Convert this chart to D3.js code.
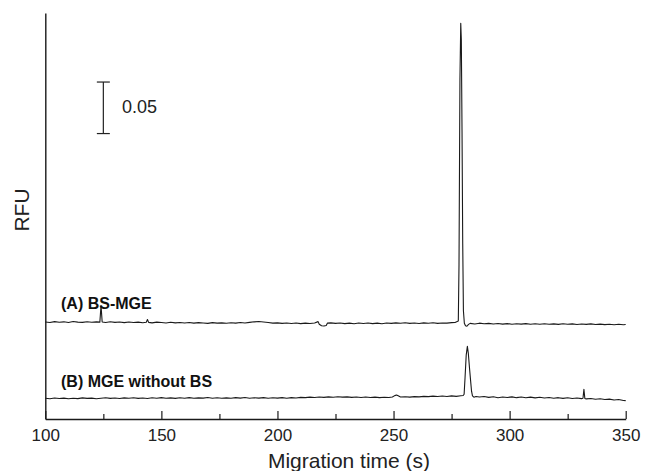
<!DOCTYPE html>
<html>
<head>
<meta charset="utf-8">
<script src="https://cdn.jsdelivr.net/npm/d3@7"></script>
<style>
  body { margin: 0; background: #fff; }
  svg { display: block; font-family: "Liberation Sans", Arial, sans-serif; }
</style>
</head>
<body>
<svg id="chart" width="645" height="471"></svg>
<script>
// migration time (s) vs RFU (in mRFU, traces already offset as drawn)
const traceA = [[100,94.2],[102,93.6],[104,94.5],[106,93.9],[108,94.3],[110,93.7],[112,94.6],[114,94.0],[116,93.8],[118,94.4],[120,93.9],[122,94.3],[123.5,94.0],[124,110],[124.5,94.1],[126,93.6],[128,94.4],[130,93.8],[132,94.1],[134,93.5],[136,94.2],[138,93.7],[140,94.0],[142,93.4],[143.5,93.9],[144,96.5],[144.5,93.8],[146,93.3],[148,94.0],[150,93.6],[152,93.2],[154,93.9],[156,93.3],[158,93.7],[160,93.1],[162,93.6],[164,93.0],[166,93.5],[168,93.2],[170,92.8],[172,93.5],[174,93.0],[176,93.3],[178,92.9],[180,93.4],[182,93.0],[184,93.6],[186,93.2],[188,93.8],[190,94.3],[192,94.6],[194,94.1],[196,93.6],[198,93.0],[200,93.3],[202,92.8],[204,93.2],[206,92.7],[208,93.1],[210,92.6],[212,93.0],[214,92.7],[216,93.2],[217.5,94.5],[218,92.0],[219,90.5],[220,90.2],[221,90.8],[221.5,93.0],[223,93.3],[225,92.8],[227,93.2],[229,92.6],[231,93.0],[233,92.5],[235,93.1],[237,92.7],[239,93.2],[241,92.6],[243,93.0],[245,92.5],[247,93.1],[249,92.8],[251,93.3],[253,92.9],[255,93.4],[257,92.8],[259,93.2],[261,92.7],[263,93.3],[265,92.9],[267,93.4],[269,92.8],[271,93.2],[273,93.0],[275,93.5],[276.5,93.6],[277.9,95],[278.2,150],[278.6,330],[278.95,384],[279.2,368],[279.5,280],[279.8,170],[280.1,105],[280.5,93],[281,90.5],[281.6,90.0],[282.3,91.8],[283,92.8],[285,92.2],[287,93.0],[289,92.4],[291,92.8],[293,92.2],[295,92.7],[297,92.1],[299,92.6],[301,92.0],[303,92.5],[305,92.1],[307,92.6],[309,92.0],[311,92.5],[313,91.9],[315,92.4],[317,91.9],[319,92.3],[321,91.8],[323,92.4],[325,91.9],[327,92.3],[329,91.7],[331,92.2],[333,91.8],[335,92.3],[337,91.7],[339,92.1],[341,91.6],[343,92.0],[345,91.5],[347,91.9],[349,91.4],[350,91.7]];

const traceB = [[100,20.1],[102,19.7],[104,20.4],[106,19.9],[108,20.3],[110,19.6],[112,20.2],[114,19.8],[116,20.5],[118,20.0],[120,20.3],[122,19.7],[124,20.2],[126,20.6],[128,20.0],[130,20.4],[132,19.9],[134,20.5],[136,20.1],[138,20.6],[140,20.0],[142,20.4],[144,19.9],[146,20.6],[148,20.2],[150,20.7],[152,20.1],[154,20.5],[156,20.0],[158,20.6],[160,20.2],[162,20.7],[164,20.1],[166,20.5],[168,20.3],[170,20.8],[172,20.2],[174,20.6],[176,20.1],[178,20.5],[180,20.2],[182,20.7],[184,20.3],[186,20.8],[188,20.2],[190,20.6],[192,20.3],[194,20.7],[196,20.2],[198,20.6],[200,20.3],[202,20.7],[204,20.2],[206,20.7],[208,20.4],[210,21.0],[212,20.7],[214,21.2],[216,20.8],[218,21.3],[220,21.0],[222,21.5],[224,21.1],[226,21.6],[228,21.2],[230,21.5],[232,21.0],[234,21.4],[236,20.9],[238,21.3],[240,20.8],[242,21.2],[244,20.7],[246,21.1],[248,20.8],[249.5,21.3],[250.5,22.7],[251.3,23.3],[252,22.5],[253,21.3],[255,21.6],[257,21.2],[259,21.7],[261,21.5],[263,22.0],[265,21.7],[267,22.2],[269,21.8],[271,22.3],[273,21.9],[275,22.4],[277,22.0],[279,22.5],[280,22.8],[280.4,24],[280.8,40],[281.3,62],[281.8,70.5],[282.2,64],[282.7,50],[283.2,37],[283.6,27],[284,22.5],[284.6,21.2],[285.5,21.9],[287,21.3],[289,21.8],[291,21.0],[293,21.6],[295,20.7],[297,21.4],[299,20.9],[301,21.5],[303,20.7],[305,21.3],[307,20.6],[309,21.2],[311,20.5],[313,21.1],[315,20.4],[317,20.9],[319,20.2],[321,20.7],[323,20.0],[325,20.6],[327,19.9],[329,20.4],[331,19.8],[331.6,20.1],[332,28.8],[332.4,20.0],[333,19.5],[335,19.9],[337,19.2],[339,19.7],[341,18.9],[343,19.3],[345,18.5],[347,18.9],[349,18.0],[350,17.8]];

const majorTicks = [100, 150, 200, 250, 300, 350];
const minorTicks = [125, 175, 225, 275, 325];
const labels = ["(A) BS-MGE", "(B) MGE without BS"];
const scaleBar = [277, 327];   // mRFU, bar spans 0.05 RFU
const scaleBarTime = 125;

const svg = d3.select("#chart");

const x = d3.scaleLinear().domain([100, 350]).range([45.3, 625.7]);
const y = d3.scaleLinear().domain([0, 394]).range([419, 13]);

const ink = "#1a1a1a";

// y axis: plain line, no ticks
svg.append("g")
  .attr("transform", "translate(45.3,0)")
  .call(d3.axisLeft(y).tickValues([]).tickSizeOuter(0))
  .call(g => g.select(".domain").attr("stroke", ink).attr("stroke-width", 1.4));

// x axis, ticks pointing inward
svg.append("g")
  .attr("transform", "translate(0,419)")
  .call(d3.axisBottom(x).tickValues(majorTicks).tickSizeInner(-8).tickSizeOuter(0).tickPadding(10))
  .call(g => g.select(".domain").attr("stroke", ink).attr("stroke-width", 1.4))
  .call(g => g.selectAll(".tick line").attr("stroke", ink).attr("stroke-width", 1.2))
  .call(g => g.selectAll(".tick text")
    .attr("fill", "#222")
    .style("font-size", "17px")
    .style("font-family", "'Liberation Sans', Arial, sans-serif"));

svg.append("g")
  .attr("transform", "translate(0,419)")
  .call(d3.axisBottom(x).tickValues(minorTicks).tickSizeInner(-5).tickSizeOuter(0).tickFormat(""))
  .call(g => g.select(".domain").remove())
  .call(g => g.selectAll(".tick line").attr("stroke", ink).attr("stroke-width", 1.2));

// traces
const line = d3.line().x(d => x(d[0])).y(d => y(d[1]));

svg.selectAll("path.trace")
  .data([traceA, traceB])
  .join("path")
  .attr("class", "trace")
  .attr("d", line)
  .attr("fill", "none")
  .attr("stroke", ink)
  .attr("stroke-width", 1.1)
  .attr("stroke-linejoin", "round");

// trace labels
svg.append("text")
  .attr("x", 61).attr("y", 309)
  .style("font-size", "16px").style("font-weight", "bold").attr("fill", "#111")
  .text(labels[0]);

svg.append("text")
  .attr("x", 61).attr("y", 387)
  .style("font-size", "16px").style("font-weight", "bold").attr("fill", "#111")
  .text(labels[1]);

// scale bar
const sb = svg.append("g").attr("stroke", "#222").attr("stroke-width", 1.2);
sb.append("line")
  .attr("x1", x(scaleBarTime)).attr("x2", x(scaleBarTime))
  .attr("y1", y(scaleBar[0])).attr("y2", y(scaleBar[1]));
scaleBar.forEach(v => {
  sb.append("line")
    .attr("x1", x(scaleBarTime) - 6.5).attr("x2", x(scaleBarTime) + 6.5)
    .attr("y1", y(v)).attr("y2", y(v));
});

svg.append("text")
  .attr("x", 122).attr("y", 113)
  .style("font-size", "18px").attr("fill", "#222")
  .text("0.05");

// axis titles
svg.append("text")
  .attr("x", 349).attr("y", 468)
  .attr("text-anchor", "middle")
  .style("font-size", "21px").attr("fill", "#222")
  .text("Migration time (s)");

svg.append("text")
  .attr("transform", "translate(29,210) rotate(-90)")
  .attr("text-anchor", "middle")
  .style("font-size", "21px").attr("fill", "#222")
  .text("RFU");
</script>
</body>
</html>
